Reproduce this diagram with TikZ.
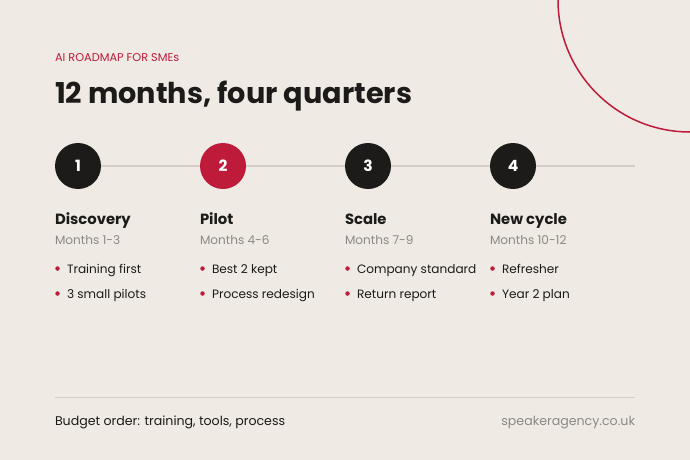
\documentclass[tikz,border=0pt]{standalone}
\usepackage{fontspec}
\setmainfont{Poppins}
\usetikzlibrary{positioning}

\definecolor{paper}{HTML}{EFEBE4}
\definecolor{accent}{HTML}{BE1A3A}
\definecolor{ink}{HTML}{1C1B19}
\definecolor{muted}{HTML}{8C8984}
\definecolor{rulegray}{HTML}{D3CFC5}

\tikzset{
  txt/.style={anchor=base west, inner sep=0pt, outer sep=0pt},
  stepdot/.style={circle, fill=ink, minimum size=46pt, inner sep=0pt, text=white,
    font=\fontsize{15.5}{18}\selectfont\bfseries},
  phase/.style={txt, text=ink, font=\fontsize{14.8}{17}\selectfont\bfseries},
  months/.style={txt, text=muted, font=\fontsize{12.1}{14}\selectfont},
  item/.style={txt, text=ink, font=\fontsize{12.1}{14}\selectfont},
  footnote/.style={txt, text=ink, font=\fontsize{12.6}{15}\selectfont},
  bullet/.style={circle, fill=accent, minimum size=4.5pt, inner sep=0pt},
}

\begin{document}
\begin{tikzpicture}[x=1pt,y=-1pt]
       \fill[paper] (0,0) rectangle (690,460);
       \useasboundingbox (0,0) rectangle (690,460);

       \begin{scope}
         \clip (0,0) rectangle (690,460);
         \coordinate(Corner) at (690,0);
         \draw[accent, line width=1.5pt] (Corner) circle[radius=132];
       \end{scope}

       \node(Kicker)[txt, text=accent, font=\fontsize{11.3}{13}\selectfont] at (55,62) {AI ROADMAP FOR SMEs};
       \node(Title)[txt, text=ink, font=\fontsize{28.7}{33}\selectfont\bfseries] at (55,103) {12 months, four quarters};

       % timeline
       \node(S1)[stepdot] at (78,166) {1};
       \node(S2)[stepdot, fill=accent] at (223,166) {2};
       \node(S3)[stepdot] at (368,166) {3};
       \node(S4)[stepdot] at (513,166) {4};
       \coordinate(LineEnd) at (635,166);

       \draw[rulegray, line width=1.5pt] (S1) -- (S2);
       \draw[rulegray, line width=1.5pt] (S2) -- (S3);
       \draw[rulegray, line width=1.5pt] (S3) -- (S4);
       \draw[rulegray, line width=1.5pt] (S4) -- (LineEnd);

       % phase 1
       \node(P1)[phase] at (55,224) {Discovery};
       \node(M1)[months] at (55,244) {Months 1-3};
       \node(B1a)[bullet] at (57.5,268.5) {};
       \node(T1a)[item] at (67,273) {Training first};
       \node(B1b)[bullet] at (57.5,293.5) {};
       \node(T1b)[item] at (67,298) {3 small pilots};

       % phase 2
       \node(P2)[phase] at (200,224) {Pilot};
       \node(M2)[months] at (200,244) {Months 4-6};
       \node(B2a)[bullet] at (202.5,268.5) {};
       \node(T2a)[item] at (212,273) {Best 2 kept};
       \node(B2b)[bullet] at (202.5,293.5) {};
       \node(T2b)[item] at (212,298) {Process redesign};

       % phase 3
       \node(P3)[phase] at (345,224) {Scale};
       \node(M3)[months] at (345,244) {Months 7-9};
       \node(B3a)[bullet] at (347.5,268.5) {};
       \node(T3a)[item] at (357,273) {Company standard};
       \node(B3b)[bullet] at (347.5,293.5) {};
       \node(T3b)[item] at (357,298) {Return report};

       % phase 4
       \node(P4)[phase] at (490,224) {New cycle};
       \node(M4)[months] at (490,244) {Months 10-12};
       \node(B4a)[bullet] at (492.5,268.5) {};
       \node(T4a)[item] at (502,273) {Refresher};
       \node(B4b)[bullet] at (492.5,293.5) {};
       \node(T4b)[item] at (502,298) {Year 2 plan};

       % footer
       \coordinate(FootL) at (55,397);
       \coordinate(FootR) at (635,397);
       \draw[rulegray, line width=1pt] (FootL) -- (FootR);
       \node(Budget)[footnote] at (55,425) {Budget order: training, tools, process};
       \node(Site)[footnote, anchor=base east, text=muted] at (635,425) {speakeragency.co.uk};
\end{tikzpicture}
\end{document}
